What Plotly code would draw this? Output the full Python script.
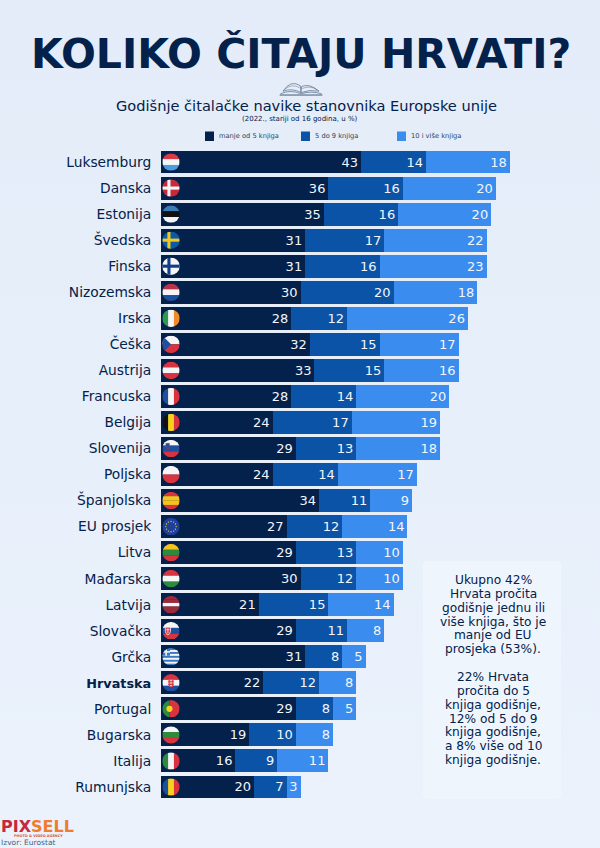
import base64, math
import plotly.graph_objects as go

countries = ["Luksemburg","Danska","Estonija","Švedska","Finska","Nizozemska","Irska","Češka","Austrija",
             "Francuska","Belgija","Slovenija","Poljska","Španjolska","EU prosjek","Litva","Mađarska",
             "Latvija","Slovačka","Grčka","Hrvatska","Portugal","Bugarska","Italija","Rumunjska"]
low  = [43,36,35,31,31,30,28,32,33,28,24,29,24,34,27,29,30,21,29,31,22,29,19,16,20]
mid  = [14,16,16,17,16,20,12,15,15,14,17,13,14,11,12,13,12,15,11,8,12,8,10,9,7]
high = [18,20,20,22,23,18,26,17,16,20,19,18,17,9,14,10,10,14,8,5,8,5,8,11,3]
series_names = ["manje od 5 knjiga","5 do 9 knjiga","10 i više knjiga"]
series_colors = ["#03214A","#0B53A6","#3A8CEE"]

TITLE = "KOLIKO ČITAJU HRVATI?"
SUB = "Godišnje čitalačke navike stanovnika Europske unije"
SUB2 = "(2022., stariji od 16 godina, u %)"
NOTE_LINES = ["Ukupno 42%","Hrvata pročita","godišnje jednu ili","više knjiga, što je","manje od EU","prosjeka (53%).","",
              "22% Hrvata","pročita do 5","knjiga godišnje,","12% od 5 do 9","knjiga godišnje,","a 8% više od 10","knjiga godišnje."]

R,W,B,G="#D8343F","#F5F5F5","#1F4FA0","#2E8B3E"
flags = {
 "Luksemburg":("h",["#D83A48","#F5F5F5","#4A9BE0"]),
 "Danska":("c",["#C8283C","#F5F5F5"]),
 "Estonija":("h",["#3A7DB5","#111111","#F5F5F5"]),
 "Švedska":("c",["#0B5AA8","#F2C81E"]),
 "Finska":("c",["#F5F5F5","#123C8C"]),
 "Nizozemska":("h",["#B8324A","#F5F5F5","#1F4FA0"]),
 "Irska":("v",["#2E9A50","#F5F5F5","#F08A2A"]),
 "Češka":("t",["#F5F5F5","#D8343F","#1F4FA0"]),
 "Austrija":("h",[R,W,R]),
 "Francuska":("v",[B,W,R]),
 "Belgija":("v",["#111111","#F5D21E",R]),
 "Slovenija":("h",[W,B,R]),
 "Poljska":("h",[W,R]),
 "Španjolska":("h",[R,"#F5C21E","#F5C21E",R]),
 "EU prosjek":("e",["#1F3F9C","#F5D21E"]),
 "Litva":("h",["#F5C21E",G,R]),
 "Mađarska":("h",[R,W,G]),
 "Latvija":("h",["#9C2A3A","#9C2A3A",W,"#9C2A3A","#9C2A3A"]),
 "Slovačka":("h",[W,B,R]),
 "Grčka":("c",["#3B78C4",W]),
 "Hrvatska":("h",[R,W,B]),
 "Portugal":("p",[G,R,"#F5D21E"]),
 "Bugarska":("h",[W,G,R]),
 "Italija":("v",[G,W,R]),
 "Rumunjska":("v",[B,"#F5D21E",R]),
}

def flag_body(kind, cols):
    b=""
    n=len(cols)
    if kind=="h":
        b="".join(f'<rect x="0" y="{i*34/n}" width="34" height="{34/n+.3}" fill="{c}"/>' for i,c in enumerate(cols))
    elif kind=="v":
        b="".join(f'<rect y="0" x="{i*34/n}" height="34" width="{34/n+.3}" fill="{c}"/>' for i,c in enumerate(cols))
    elif kind=="c":
        b=(f'<rect width="34" height="34" fill="{cols[0]}"/><rect x="10" width="6" height="34" fill="{cols[1]}"/>'
           f'<rect y="14" width="34" height="6" fill="{cols[1]}"/>')
    elif kind=="t":
        b=(f'<rect width="34" height="17" fill="{cols[0]}"/><rect y="17" width="34" height="17" fill="{cols[1]}"/>'
           f'<path d="M0 0L17 17L0 34Z" fill="{cols[2]}"/>')
    elif kind=="e":
        b=f'<rect width="34" height="34" fill="{cols[0]}"/>'
        for i in range(12):
            a=i*math.pi/6
            b+=f'<circle cx="{17+10*math.cos(a):.1f}" cy="{17+10*math.sin(a):.1f}" r="1.3" fill="{cols[1]}"/>'
    elif kind=="p":
        b=(f'<rect width="14" height="34" fill="{cols[0]}"/><rect x="14" width="20" height="34" fill="{cols[1]}"/>'
           f'<circle cx="14" cy="17" r="6" fill="{cols[2]}"/>')
    return b

extras = {
 "Slovenija":'<path d="M7 7h7v6q0 4-3.5 5q-3.5-1-3.5-5z" fill="#1F4FA0" stroke="#D8343F"/>',
 "Slovačka":'<path d="M6 10h10v8q0 5-5 7q-5-2-5-7z" fill="#D8343F" stroke="#F5F5F5" stroke-width="1.5"/><path d="M11 12v10M8 15h6" stroke="#F5F5F5" stroke-width="1.5"/>',
 "Hrvatska":'<path d="M12 11h10v8q0 4-5 6q-5-2-5-6z" fill="#F5F5F5" stroke="#D8343F"/><path d="M14.5 11v14M19.5 11v14M12 15h10M12 20h10" stroke="#D8343F" stroke-width="2"/>',
}

def to_uri(s):
    return "data:image/svg+xml;base64,"+base64.b64encode(s.encode()).decode()

def svg_flag(name):
    kind, cols = flags[name]
    if name=="Grčka":
        body='<rect width="34" height="34" fill="#3B78C4"/>'
        for i in range(4):
            body+=f'<rect y="{3.8+i*7.6}" width="34" height="3.8" fill="#F5F5F5"/>'
        body+='<rect width="15" height="15" fill="#3B78C4"/><rect x="6" width="3" height="15" fill="#F5F5F5"/><rect y="6" width="15" height="3" fill="#F5F5F5"/>'
    else:
        body=flag_body(kind,cols)+extras.get(name,"")
    return to_uri(f'<svg xmlns="http://www.w3.org/2000/svg" viewBox="0 0 34 34" width="68" height="68">'
       f'<clipPath id="c"><circle cx="17" cy="17" r="17"/></clipPath><g clip-path="url(#c)">{body}</g></svg>')

BOOK_URI = to_uri('<svg xmlns="http://www.w3.org/2000/svg" viewBox="0 0 66 22" width="264" height="88"><g fill="#E8EEF8" stroke="#4B6480" stroke-width="1">'
        '<path d="M6 15Q18 -3 32 7L33 17Q20 10 6 15Z"/><path d="M60 15Q46 3 34 8L33 17Q46 12 60 15Z"/>'
        '<path d="M9 12Q20 3 31 10M57 13Q46 6 35 11" fill="none" stroke-width=".7"/>'
        '<path d="M2 19Q18 12 33 19Q48 14 64 19" fill="none"/><path d="M1 21H65" stroke-width="1.8"/></g></svg>')
BG_URI = to_uri('<svg xmlns="http://www.w3.org/2000/svg" width="600" height="848" preserveAspectRatio="none"><defs><linearGradient id="g" x1="0" y1="0" x2="0" y2="1">'
        '<stop offset="0" stop-color="#E3ECF8"/><stop offset="1" stop-color="#EBF2FC"/></linearGradient></defs><rect width="600" height="848" fill="url(#g)"/></svg>')

W_PX,H_PX=600,848
def fx(p): return p/W_PX
def fy(p): return 1-p/H_PX
PXU=4.65
FONT="DejaVu Sans"
NAVY="#03214A"

fig=go.Figure()
for vals,name,col in zip([low,mid,high],series_names,series_colors):
    fig.add_bar(y=countries,x=vals,name=name,orientation="h",marker=dict(color=col,line_width=0),
                text=vals,textposition="inside",insidetextanchor="end",constraintext="none",
                textfont=dict(family=FONT,size=13,color="#F2F6FC"),hoverinfo="skip",cliponaxis=False)

ticktext=['<span style="font-size:12.8px;font-weight:bold">'+c+'</span>' if c=="Hrvatska" else c for c in countries]
fig.update_layout(
    width=W_PX,height=H_PX,autosize=False,margin=dict(l=0,r=0,t=0,b=0),
    paper_bgcolor="#E6EEF9",plot_bgcolor="rgba(0,0,0,0)",barmode="stack",bargap=0.12,showlegend=False,
    font=dict(family=FONT,color=NAVY),
    xaxis=dict(domain=[fx(161),1],range=[0,439/PXU],visible=False),
    yaxis=dict(domain=[fy(800),fy(149)],type="category",categoryorder="array",categoryarray=countries,
               autorange=False,range=[24.5,-0.5],tickmode="array",tickvals=countries,ticktext=ticktext,
               ticks="outside",ticklen=6,tickcolor="rgba(0,0,0,0)",showline=False,showgrid=False,
               tickfont=dict(family=FONT,size=13.8,color=NAVY)),
)

images=[dict(source=BG_URI,xref="paper",yref="paper",x=0,y=1,sizex=1,sizey=1,xanchor="left",yanchor="top",sizing="stretch",layer="below")]
images+=[dict(source=svg_flag(c),xref="x",yref="y",x=10/PXU,y=i,sizex=17.5/PXU,sizey=17.5/26.04,
             xanchor="center",yanchor="middle",sizing="contain",layer="above") for i,c in enumerate(countries)]
images.append(dict(source=BOOK_URI,xref="paper",yref="paper",x=fx(301),y=fy(88.5),sizex=44/W_PX,sizey=14.7/H_PX,
                   xanchor="center",yanchor="middle",sizing="contain",layer="above"))
fig.update_layout(images=images)

def ann(text,x,y,size,color=NAVY,xa="center",ya="middle",family=FONT):
    fig.add_annotation(text=text,xref="paper",yref="paper",x=fx(x),y=fy(y),xanchor=xa,yanchor=ya,showarrow=False,
                       font=dict(family=family,size=size,color=color),align="center" if xa=="center" else "left",borderpad=0)

ann(f"<b>{TITLE}</b>",301,54,41)
ann(SUB,306,105.5,14.6)
ann(SUB2,300,118.5,7)
for x,name,col in zip([205,301,397],series_names,series_colors):
    fig.add_shape(type="rect",xref="paper",yref="paper",x0=fx(x),x1=fx(x+9),y0=fy(141),y1=fy(131.5),fillcolor=col,line_width=0)
    ann(name,x+13,136,6.7,color="#2B3F5E",xa="left")

# info panel
x0,x1,y0,y1,r=423,561,561,799,5
fig.add_shape(type="path",xref="paper",yref="paper",fillcolor="#EFF5FD",line_width=0,layer="below",
  path=(f"M{fx(x0+r)},{fy(y0)} L{fx(x1-r)},{fy(y0)} Q{fx(x1)},{fy(y0)} {fx(x1)},{fy(y0+r)} "
        f"L{fx(x1)},{fy(y1-r)} Q{fx(x1)},{fy(y1)} {fx(x1-r)},{fy(y1)} L{fx(x0+r)},{fy(y1)} "
        f"Q{fx(x0)},{fy(y1)} {fx(x0)},{fy(y1-r)} L{fx(x0)},{fy(y0+r)} Q{fx(x0)},{fy(y0)} {fx(x0+r)},{fy(y0)} Z"))
for i,line in enumerate(NOTE_LINES):
    if line:
        ann(line,493,580+i*13.85,12.2)

ann('<b><span style="color:#C8283C">PIX</span><span style="color:#EE7D31">SELL</span></b>',0,826.5,16,xa="left")
ann('<b>PHOTO &amp; VIDEO AGENCY</b>',13,836,3.5,color="#D9573A",xa="left")
ann("Izvor: Eurostat",0,842.5,7.5,color="#4F6078",xa="left")

fig.write_html("out.html",config={"displayModeBar":False},
               post_script="document.body.style.margin='0';document.documentElement.style.overflow='hidden';")
